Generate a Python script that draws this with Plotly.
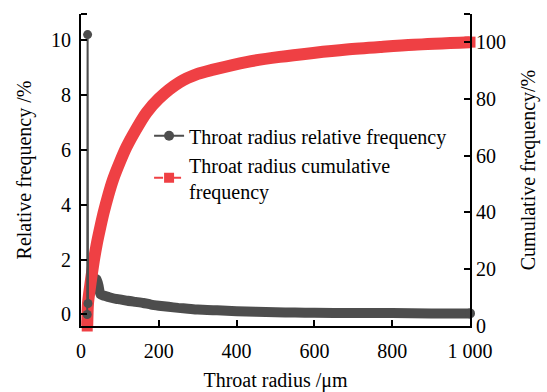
import plotly.graph_objects as go

# Throat radius relative frequency (%): first three points form the narrow spike
rel_x = [16, 17, 18, 20, 25, 30, 35, 40, 45, 50, 60, 70, 80, 90, 100, 120, 140,
         160, 180, 200, 225, 250, 275, 300, 350, 400, 450, 500, 550, 600, 700,
         800, 900, 1000]
rel_y = [0, 10.2, 0.4, 0.6, 1.0, 1.25, 1.3, 1.28, 1.05, 0.74, 0.68, 0.64, 0.6,
         0.57, 0.55, 0.5, 0.46, 0.42, 0.36, 0.32, 0.28, 0.24, 0.21, 0.18, 0.15,
         0.12, 0.1, 0.08, 0.07, 0.06, 0.05, 0.05, 0.04, 0.04]

# Throat radius cumulative frequency (%)
cum_x = [16, 18, 21, 27, 33, 40, 50, 58, 70, 82, 100, 117, 140, 168, 200, 254,
         300, 340, 425, 511, 597, 683, 769, 855, 1000]
cum_y = [0, 8, 11.5, 17.5, 23, 28.5, 35, 39.8, 46, 51.4, 57.7, 63, 68.8, 75, 80,
         85.8, 88.7, 90.2, 92.9, 94.7, 96.1, 97.3, 98.2, 99.0, 99.9]

x_ticks = [0, 200, 400, 600, 800, 1000]
x_tick_text = ["0", "200", "400", "600", "800", "1 000"]
left_ticks = [0, 2, 4, 6, 8, 10]
right_ticks = [0, 20, 40, 60, 80, 100]

GRAY = "#4d4d4d"
RED = "#ef4044"
FONT = "Liberation Serif"
FS = 20

fig = go.Figure()

# relative frequency band (dense markers rendered as a thick stroke)
fig.add_trace(go.Scatter(
    x=rel_x[2:], y=rel_y[2:], mode="lines",
    line=dict(color=GRAY, width=10, shape="spline", smoothing=0.6),
    showlegend=False, cliponaxis=False,
))
fig.add_trace(go.Scatter(
    x=rel_x[-1:], y=rel_y[-1:], mode="markers",
    marker=dict(size=10, color=GRAY), showlegend=False, cliponaxis=False,
))

# cumulative band
fig.add_trace(go.Scatter(
    x=cum_x, y=cum_y, yaxis="y2", mode="lines",
    line=dict(color=RED, width=12, shape="spline", smoothing=0.8),
    showlegend=False, cliponaxis=False,
))
fig.add_trace(go.Scatter(
    x=[cum_x[0], cum_x[-1]], y=[cum_y[0], cum_y[-1]], yaxis="y2",
    mode="markers", marker=dict(symbol="square", size=11, color=RED),
    showlegend=False, cliponaxis=False,
))

# relative frequency spike (thin connecting line), drawn above both bands
fig.add_trace(go.Scatter(
    x=rel_x[:3], y=rel_y[:3], mode="lines+markers", yaxis="y3",
    line=dict(color=GRAY, width=2), marker=dict(size=9, color=GRAY),
    showlegend=False, cliponaxis=False,
))

# legend entries
fig.add_trace(go.Scatter(
    x=[None], y=[None], mode="lines+markers",
    name="Throat radius relative frequency",
    line=dict(color=GRAY, width=2), marker=dict(size=10, color=GRAY),
))
fig.add_trace(go.Scatter(
    x=[None], y=[None], mode="lines+markers",
    name="Throat radius cumulative<br>frequency",
    line=dict(color=RED, width=2, dash="dash"),
    marker=dict(symbol="square", size=10, color=RED),
))

axis_common = dict(
    showline=True, linecolor="black", linewidth=2, showgrid=False,
    zeroline=False, ticks="inside", ticklen=6, tickwidth=2, tickcolor="black",
    tickfont=dict(family=FONT, size=FS, color="black"), automargin=False,
)

LEFT_RANGE = [-0.42, 10.95]

fig.update_layout(
    width=547, height=392,
    margin=dict(l=81, r=77, t=14, b=66),
    paper_bgcolor="white", plot_bgcolor="white",
    font=dict(family=FONT, size=FS, color="black"),
    xaxis=dict(
        range=[0, 1000], tickvals=x_ticks, ticktext=x_tick_text,
        ticklabelstandoff=6,
        title=dict(text="Throat radius /μm", standoff=12,
                   font=dict(family=FONT, size=FS)),
        **axis_common,
    ),
    yaxis=dict(
        range=LEFT_RANGE, tickvals=left_ticks, ticklabelstandoff=4,
        title=dict(text="Relative frequency /%", standoff=14,
                   font=dict(family=FONT, size=FS)),
        **axis_common,
    ),
    yaxis2=dict(
        range=[0, 109.8], tickvals=right_ticks, overlaying="y", side="right",
        title=dict(text="Cumulative frequency/%", standoff=16,
                   font=dict(family=FONT, size=FS)),
        **axis_common,
    ),
    # hidden copy of the left scale so the spike sits on top
    yaxis3=dict(
        range=LEFT_RANGE, overlaying="y", visible=False, showgrid=False,
        zeroline=False,
    ),
    legend=dict(
        x=0.175, y=0.672, xanchor="left", yanchor="top",
        bgcolor="rgba(0,0,0,0)", font=dict(family=FONT, size=FS),
        tracegroupgap=0,
    ),
    shapes=[
        dict(type="line", xref="paper", yref="paper", xsizemode="pixel",
             xanchor=0, x0=0, x1=6, y0=1, y1=1,
             line=dict(color="black", width=2)),
        dict(type="line", xref="paper", yref="paper", xsizemode="pixel",
             xanchor=1, x0=-6, x1=0, y0=1, y1=1,
             line=dict(color="black", width=2)),
    ],
)

fig.write_html("out.html")
